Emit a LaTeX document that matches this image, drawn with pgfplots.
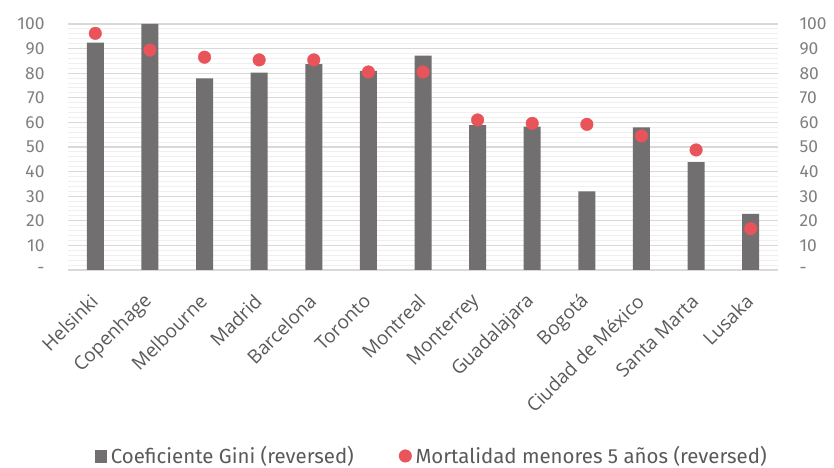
\documentclass[border=0pt]{standalone}
\usepackage{fontspec}
\setmainfont{Fira Sans}
\newfontfamily\catfont{Open Sans}
\usepackage{pgfplots}
\pgfplotsset{compat=1.18}
\usepackage{pgfplotstable}

\definecolor{bargray}{HTML}{716F70}
\definecolor{dotred}{HTML}{E9545B}
\definecolor{ticktext}{HTML}{7F7F7F}
\definecolor{labtext}{HTML}{595959}
\definecolor{majgrid}{HTML}{D9D9D9}
\definecolor{mingrid}{HTML}{EFEFEF}

% Inverted indicators per city (0-100 scale)
\pgfplotstableread{
x gini mort
0  92.4 96.2
1  100  89.4
2  77.9 86.5
3  80.2 85.4
4  83.7 85.4
5  80.9 80.5
6  87.1 80.5
7  58.9 61.0
8  58.3 59.6
9  32.0 59.2
10 58.0 54.5
11 43.9 48.8
12 22.8 16.8
}\citydata

\pgfplotsset{
  base/.style={
    scale only axis,
    width=710bp, height=246bp,
    xmin=-0.5, xmax=12.5,
    ymin=0, ymax=100,
    ytick={0,10,...,100},
    major tick length=0pt, minor tick length=0pt,
    tick label style={font=\fontsize{17.5}{20}\selectfont, text=ticktext},
    axis line style={draw=none},
  },
}

\begin{document}
\begin{tikzpicture}
\useasboundingbox (0,0) rectangle (834bp,468bp);
\begin{axis}[
  base,
  at={(68bp,198bp)}, anchor=south west,
  axis y line*=left,
  yticklabels={-\hspace{12bp},10,20,30,40,50,60,70,80,90,100},
  yticklabel style={xshift=-20bp},
  xtick=data,
  xticklabels={Helsinki,Copenhage,Melbourne,Madrid,Barcelona,Toronto,Montreal,Monterrey,Guadalajara,Bogotá,Ciudad de México,Santa Marta,Lusaka},
  xticklabel style={font=\catfont\fontsize{19}{22}\selectfont, text=labtext, xshift=-1bp, yshift=-28bp, rotate=45, anchor=east, inner sep=0bp},
  ymajorgrids, yminorgrids, minor y tick num=4,
  major grid style={majgrid, line width=1.2bp},
  minor grid style={mingrid, line width=1bp},
]
\addplot[ybar, bar width=17bp, fill=bargray, draw=none] table[x=x, y=gini] {\citydata};
\end{axis}
\begin{axis}[
  base,
  at={(68bp,198bp)}, anchor=south west,
  axis y line*=right,
  axis x line=none,
  yticklabels={-,10,20,30,40,50,60,70,80,90,100},
  yticklabel style={xshift=18bp, anchor=west},
  legend style={at={(0.0366,-0.756)}, anchor=west, draw=none, fill=none,
    inner sep=0pt, legend columns=2, font=\fontsize{20.5}{22}\selectfont, text=labtext,
    /tikz/every even column/.append style={column sep=43bp}},
  legend cell align=left,
  legend image code/.code={%
    \draw[mark repeat=1, mark phase=1, #1] plot coordinates {(0,0)};
    \path (-6.3bp,0) (8bp,0);
  },
]
\addlegendimage{only marks, mark=square*, mark size=5.8bp, bargray}
\addlegendentry{Coeficiente Gini (reversed)}
\addplot[only marks, mark=*, mark size=6.3bp, dotred] table[x=x, y=mort] {\citydata};
\addlegendentry{Mortalidad menores 5 años (reversed)}
\end{axis}
\end{tikzpicture}
\end{document}
